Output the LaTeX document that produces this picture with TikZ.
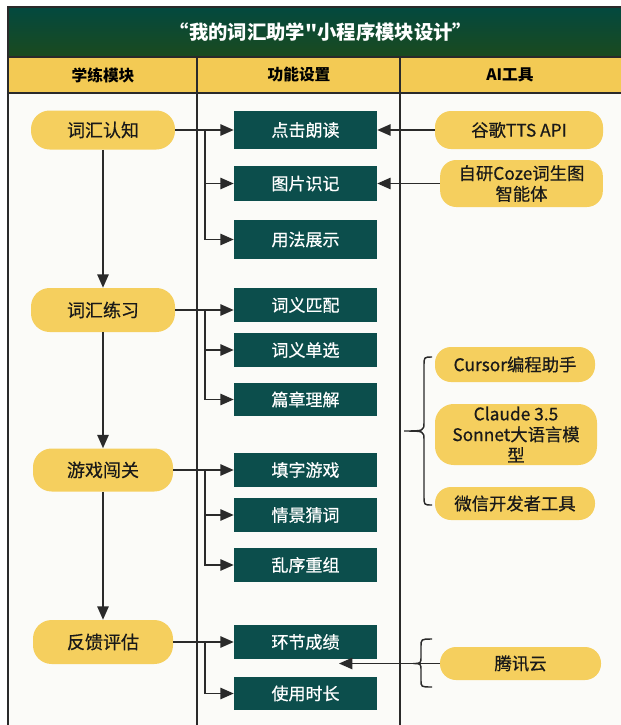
\documentclass[tikz,border=0pt]{standalone}
\usepackage{fontspec}
\setmainfont{Noto Sans CJK SC}[Ligatures=TeXOff]
\newfontfamily\medfont{Noto Sans CJK SC}[FakeBold=0.6]
\usetikzlibrary{arrows.meta}
\definecolor{tealtop}{HTML}{03493F}
\definecolor{greenbot}{HTML}{1B4A1E}
\definecolor{hdryel}{HTML}{F3CA54}
\definecolor{pillyel}{HTML}{F5CF5E}
\definecolor{boxteal}{HTML}{0C4E4C}
\definecolor{linec}{HTML}{2A2A2A}
\definecolor{bodybg}{HTML}{FBFBF8}
\begin{document}
\begin{tikzpicture}[x=0.75pt,y=-0.75pt,
  tline/.style={draw=linec, line width=1.7pt},
  arr/.style={draw=linec, line width=1.2pt, -{Triangle[length=10pt,width=8.5pt]}},
  lpill/.style={fill=pillyel, rounded corners=14pt, inner sep=0pt, font=\medfont\fontsize{13.5}{16}\selectfont, text=black!90},
  rpill/.style={fill=pillyel, rounded corners=12pt, inner sep=0pt, align=center, font=\medfont\fontsize{13}{15.5}\selectfont, text=black!90},
  fbox/.style={fill=boxteal, inner sep=0pt, minimum width=107.25pt, text=white, font=\medfont\fontsize{12.75}{15}\selectfont},
  hdr/.style={font=\bfseries\fontsize{11.8}{14}\selectfont, text=black},
  bracec/.style={draw=linec, line width=1.1pt}
]
\useasboundingbox (0,0) rectangle (621,725);
% backgrounds
\fill[white] (0,0) rectangle (621,725);
\fill[bodybg] (8,93) rectangle (621,725);
\shade[top color=tealtop, bottom color=greenbot] (8,7) rectangle (621,57);
\fill[hdryel] (8,57) rectangle (621,93);
% table lines
\draw[tline] (8,725) -- (8,7) -- (621,7);
\draw[tline] (8,57) -- (621,57);
\draw[tline] (8,93) -- (621,93);
\draw[tline] (197,57) -- (197,725);
\draw[tline] (400,57) -- (400,725);
% title and headers
\node[text=white, font=\bfseries\fontsize{14.5}{16}\selectfont] (title) at (321,32) {“我的词汇助学"小程序模块设计”};
\node[hdr] (h1) at (103,75) {学练模块};
\node[hdr] (h2) at (299,75) {功能设置};
\node[hdr] (h3) at (510,75) {AI工具};
% left pills
\node[lpill, minimum width=108pt, minimum height=29.25pt] (p1) at (103,130) {词汇认知};
\node[lpill, minimum width=108pt, minimum height=33pt] (p2) at (103,310) {词汇练习};
\node[lpill, minimum width=105pt, minimum height=32.25pt] (p3) at (103,470) {游戏闯关};
\node[lpill, minimum width=105pt, minimum height=33pt] (p4) at (103,642) {反馈评估};
% function boxes
\node[fbox, minimum height=28.5pt] (b11) at (305.5,130) {点击朗读};
\node[fbox, minimum height=26.25pt] (b12) at (305.5,183.5) {图片识记};
\node[fbox, minimum height=29.25pt] (b13) at (305.5,239.5) {用法展示};
\node[fbox, minimum height=25.5pt] (b21) at (305.5,305) {词义匹配};
\node[fbox, minimum height=25.5pt] (b22) at (305.5,350) {词义单选};
\node[fbox, minimum height=25pt] (b23) at (305.5,399.5) {篇章理解};
\node[fbox, minimum height=25.5pt] (b31) at (305.5,470) {填字游戏};
\node[fbox, minimum height=25.5pt] (b32) at (305.5,515) {情景猜词};
\node[fbox, minimum height=25.5pt] (b33) at (305.5,565) {乱序重组};
\node[fbox, minimum height=25.5pt] (b41) at (305.5,642) {环节成绩};
\node[fbox, minimum height=25pt] (b42) at (305.5,693.5) {使用时长};
% right pills
\node[rpill, minimum width=126pt, minimum height=28.5pt] (g1) at (519,130) {谷歌TTS API};
\node[rpill, minimum width=122pt, minimum height=35.25pt] (g2) at (521.5,183.5) {自研Coze词生图\\智能体};
\node[rpill, minimum width=120pt, minimum height=26.25pt] (g3) at (515,364.5) {Cursor编程助手};
\node[rpill, minimum width=121.5pt, minimum height=45.75pt, rounded corners=14pt] (g4) at (516,434.5) {Claude 3.5\\Sonnet大语言模\\型};
\node[rpill, minimum width=120pt, minimum height=24.75pt] (g5) at (515,503.5) {微信开发者工具};
\node[rpill, minimum width=120.75pt, minimum height=24.75pt] (g6) at (520.5,663.5) {腾讯云};
% vertical flow
\draw[arr] (p1.south) -- (p2.north);
\draw[arr] (p2.south) -- (p3.north);
\draw[arr] (p3.south) -- (p4.north);
% group 1
\coordinate (j1) at (205,130);
\draw[arr] (p1.east) -- (b11.west);
\draw[arr] (j1) |- (b12.west);
\draw[arr] (j1) |- (b13.west);
% group 2
\coordinate (j2) at (205,310);
\draw[arr] (p2.east) -- (p2.east -| b21.west);
\draw[arr] (j2) |- (b22.west);
\draw[arr] (j2) |- (b23.west);
% group 3
\coordinate (j3) at (205,470);
\draw[arr] (p3.east) -- (b31.west);
\draw[arr] (j3) |- (b32.west);
\draw[arr] (j3) |- (b33.west);
% group 4
\coordinate (j4) at (205,642);
\draw[arr] (p4.east) -- (b41.west);
\draw[arr] (j4) |- (b42.west);
% AI tool arrows
\draw[arr] (g1.west) -- (b11.east);
\draw[arr] (g2.west) -- (b12.east);
\coordinate (t6) at (339,663.5);
\draw[arr] (g6.west) -- (t6);
% braces
\draw[bracec] (432,357) .. controls (424,357) and (424,357) .. (424,366) -- (424,422)
  .. controls (424,431) and (424,431) .. (404,431)
  .. controls (424,431) and (424,431) .. (424,440) -- (424,496)
  .. controls (424,505) and (424,505) .. (432,505);
\draw[bracec] (432,639) .. controls (421,639) and (421,639) .. (421,647) -- (421,656)
  .. controls (421,663.5) and (421,663.5) .. (413,663.5)
  .. controls (421,663.5) and (421,663.5) .. (421,671) -- (421,680)
  .. controls (421,687) and (421,687) .. (432,687);
\end{tikzpicture}
\end{document}
